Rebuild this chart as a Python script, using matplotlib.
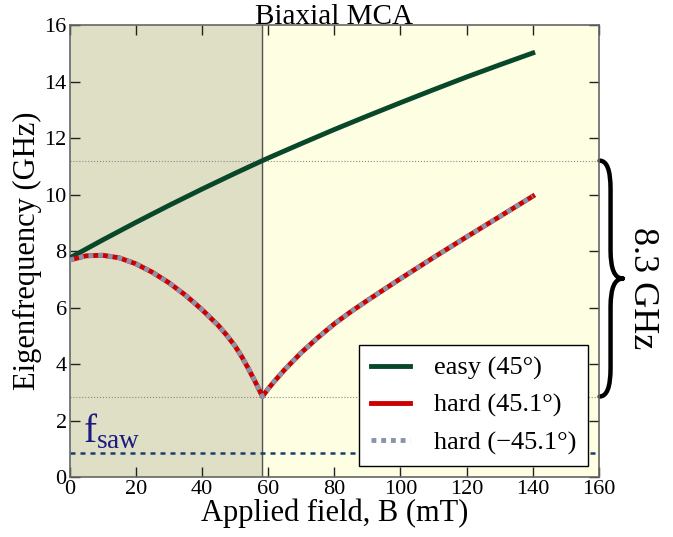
import matplotlib
matplotlib.use('Agg')
import matplotlib.pyplot as plt
from matplotlib.path import Path
from matplotlib.patches import PathPatch
import numpy as np

plt.rcParams['font.family'] = ['Liberation Serif', 'DejaVu Serif']
plt.rcParams['mathtext.fontset'] = 'custom'
plt.rcParams['mathtext.rm'] = 'Liberation Serif'

# easy axis branch (45 deg)
B_easy = [0, 10, 20, 30, 40, 50, 58.3, 60, 70, 80, 90, 100, 110, 120, 130, 140]
f_easy = [7.75, 8.39, 9.01, 9.61, 10.19, 10.75, 11.20, 11.29, 11.80, 12.30, 12.78,
          13.25, 13.71, 14.16, 14.59, 15.01]

# hard axis branch (45.1 deg and -45.1 deg coincide)
B_hard = [0, 5, 10, 15, 20, 25, 30, 35, 40, 45, 47.5, 50, 52, 54, 56, 58.3,
          60, 62, 65, 70, 75, 80, 85, 90, 100, 110, 120, 130, 140]
f_hard = [7.68, 7.83, 7.85, 7.76, 7.55, 7.25, 6.88, 6.44, 5.93, 5.36, 5.02, 4.64, 4.27, 3.85, 3.40, 2.85,
          3.12, 3.40, 3.80, 4.40, 4.93, 5.42, 5.85, 6.25, 7.02, 7.77, 8.50, 9.22, 9.94]

B_switch = 58.3
f_top = 11.20
f_bottom = 2.85
f_saw = 0.85
gap_label = '8.3 GHz'

fig = plt.figure(figsize=(6.73, 5.37), dpi=100)
ax = fig.add_axes([0.1033, 0.1117, 0.7867, 0.8417])

ax.set_facecolor('#fefee3')
ax.axvspan(0, B_switch, color='#dfdfc6', zorder=0)
ax.axvline(B_switch, color='#555555', lw=1, zorder=1)

ax.axhline(f_top, color='#888888', lw=0.8, ls=':', zorder=1)
ax.axhline(f_bottom, color='#888888', lw=0.8, ls=':', zorder=1)
ax.axhline(f_saw, color='#1a3d6e', lw=1.8, ls=(0, (2, 2)), zorder=2)

ax.plot(B_easy, f_easy, color='#08472a', lw=3.5, label='easy (45°)', zorder=3)
ax.plot(B_hard, f_hard, color='#cc0000', lw=3.5, label='hard (45.1°)', zorder=4)
ax.plot(B_hard, f_hard, color='#8a93aa', lw=3.5, ls=(0, (1, 1)), label='hard (\u221245.1°)', zorder=5)

ax.text(4.0, 1.2, r'$\mathrm{f}_{\mathrm{saw}}$', color='#1a1a80', fontsize=28)

ax.set_xlim(0, 160)
ax.set_ylim(0, 16)
ax.set_xticks(np.arange(0, 161, 20))
ax.set_yticks(np.arange(0, 17, 2))
ax.tick_params(direction='in', length=7, width=1, top=True, right=True,
               labelsize=16, pad=2, color='#222222')
for s in ax.spines.values():
    s.set_color('#666666')
    s.set_linewidth(1.2)

ax.set_xlabel('Applied field, B (mT)', fontsize=22, labelpad=0)
ax.set_ylabel('Eigenfrequency (GHz)', fontsize=22, labelpad=2)
ax.set_title('Biaxial MCA', fontsize=21, pad=1)

leg = ax.legend(loc='lower right', fontsize=19, fancybox=False, framealpha=1,
                edgecolor='black', handlelength=1.5, borderaxespad=0.4,
                borderpad=0.45, labelspacing=0.5, handletextpad=0.9)
leg.get_frame().set_linewidth(1.0)

# curly brace marking the gap
x0, w = 160.2, 7.0
xm = x0 + 3.3
ym = (f_top + f_bottom) / 2
d = 1.0
verts = [(x0, f_top), (xm, f_top), (xm, f_top - d),
         (xm, ym + d),
         (xm, ym), (x0 + w, ym), (x0 + w, ym),
         (xm, ym), (xm, ym - d),
         (xm, f_bottom + d),
         (xm, f_bottom), (x0, f_bottom)]
codes = [Path.MOVETO, Path.CURVE3, Path.CURVE3,
         Path.LINETO,
         Path.CURVE3, Path.CURVE3, Path.MOVETO,
         Path.CURVE3, Path.CURVE3,
         Path.LINETO,
         Path.CURVE3, Path.CURVE3]
brace = PathPatch(Path(verts, codes), fill=False, lw=3.2, color='black',
                  clip_on=False, capstyle='round', joinstyle='round')
ax.add_patch(brace)
ax.text(173.2, ym - 0.35, gap_label, rotation=-90, fontsize=26, ha='center', va='center',
        clip_on=False)

fig.savefig('out.png', dpi=100)
